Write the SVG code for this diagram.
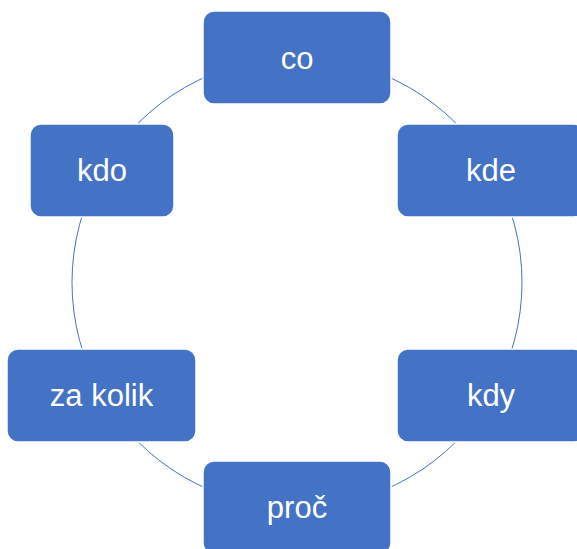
<svg xmlns="http://www.w3.org/2000/svg" width="577" height="549" viewBox="0 0 577 549">
<style>
.c{fill:none;stroke:#4472C4;stroke-width:1}
.n{fill:#4472C4;stroke:#FFFFFF;stroke-width:1.5}
.t{font-family:"Liberation Sans",Arial,sans-serif;font-size:31px;fill:#FFFFFF;text-anchor:middle}
</style>
<rect width="577" height="549" fill="#FFFFFF"/>
<g id="connectors">
<path class="c" d="M297,57.5 A225,225 0 0 1 491.86,170"/>
<path class="c" d="M491.86,170 A225,225 0 0 1 491.86,395"/>
<path class="c" d="M491.86,395 A225,225 0 0 1 297,507.5"/>
<path class="c" d="M297,507.5 A225,225 0 0 1 102.14,395"/>
<path class="c" d="M102.14,395 A225,225 0 0 1 102.14,170"/>
<path class="c" d="M102.14,170 A225,225 0 0 1 297,57.5"/>
</g>
<g id="co"><rect class="n" x="203" y="11" width="188" height="93" rx="11"/><text class="t" x="297" y="68.5">co</text></g>
<g id="kde"><rect class="n" x="397" y="124" width="188" height="93" rx="11"/><text class="t" x="491" y="180.5">kde</text></g>
<g id="kdy"><rect class="n" x="397" y="349" width="188" height="93" rx="11"/><text class="t" x="491" y="406">kdy</text></g>
<g id="proc"><rect class="n" x="203" y="461" width="188" height="93" rx="11"/><text class="t" x="297" y="518">proč</text></g>
<g id="zakolik"><rect class="n" x="7" y="349" width="189" height="93" rx="11"/><text class="t" x="101.5" y="406">za kolik</text></g>
<g id="kdo"><rect class="n" x="30" y="124" width="144" height="93" rx="11"/><text class="t" x="102" y="180.5">kdo</text></g>
</svg>
